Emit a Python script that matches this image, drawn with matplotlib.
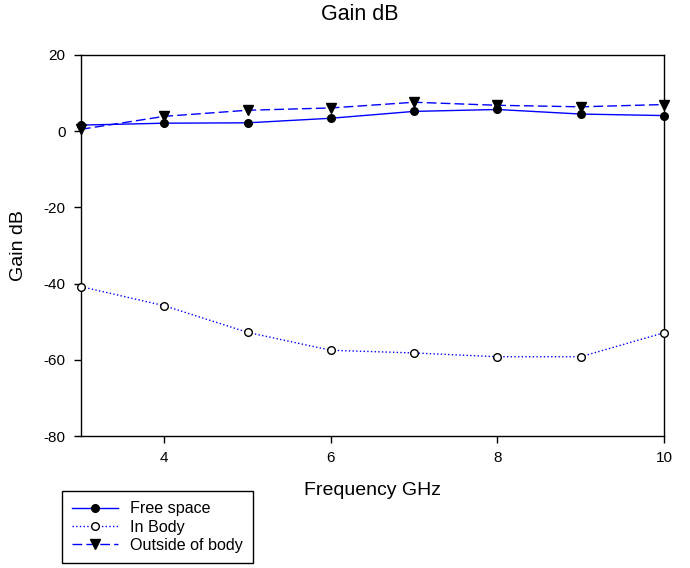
import matplotlib.pyplot as plt

plt.rcParams['font.family'] = ['Liberation Sans', 'DejaVu Sans']
plt.rcParams['axes.unicode_minus'] = False

# Data
freq = [3, 4, 5, 6, 7, 8, 9, 10]
free_space = [1.6, 2.1, 2.2, 3.4, 5.2, 5.7, 4.5, 4.1]
in_body = [-40.8, -45.8, -52.8, -57.5, -58.2, -59.2, -59.2, -52.9]
outside_body = [0.5, 3.9, 5.5, 6.1, 7.6, 6.8, 6.4, 7.0]

fig = plt.figure(figsize=(6.9, 5.68), dpi=100)
ax = fig.add_axes([81 / 690, 1 - 436 / 568, (664 - 81) / 690, (436 - 55) / 568])

l1, = ax.plot(freq, free_space, color='blue', linestyle='-', linewidth=1,
              marker='o', markersize=5.5, markerfacecolor='black', markeredgecolor='black',
              label='Free space', clip_on=False, zorder=3)
l2, = ax.plot(freq, in_body, color='blue', linestyle=':', linewidth=1,
              marker='o', markersize=5.5, markerfacecolor='white', markeredgecolor='black',
              label='In Body', clip_on=False, zorder=3)
l3, = ax.plot(freq, outside_body, color='blue', linestyle=(0, (7, 3)), linewidth=1,
              marker='v', markersize=6.5, markerfacecolor='black', markeredgecolor='black',
              label='Outside of body', clip_on=False, zorder=3)

ax.set_xlim(3, 10)
ax.set_ylim(-80, 20)
ax.set_xticks([4, 6, 8, 10])
ax.set_yticks([-80, -60, -40, -20, 0, 20])
ax.tick_params(direction='out', length=5, width=1, labelsize=11, pad=6)
for s in ax.spines.values():
    s.set_linewidth(1)

ax.set_xlabel('Frequency GHz', fontsize=14, labelpad=12)
ax.set_ylabel('Gain dB', fontsize=14, labelpad=12)
fig.text(360 / 690, 1 - 15 / 568, 'Gain dB', ha='center', va='center', fontsize=15.5)

leg = fig.legend(handles=[l1, l2, l3], loc='upper left',
                 bbox_to_anchor=(62 / 690, 1 - 491 / 568), fontsize=11.6,
                 frameon=True, fancybox=False, edgecolor='black', framealpha=1,
                 handlelength=2.8, borderpad=0.65, labelspacing=0.2,
                 handletextpad=0.75, borderaxespad=0)
leg.get_frame().set_linewidth(1)

plt.savefig('out.png', dpi=100)
